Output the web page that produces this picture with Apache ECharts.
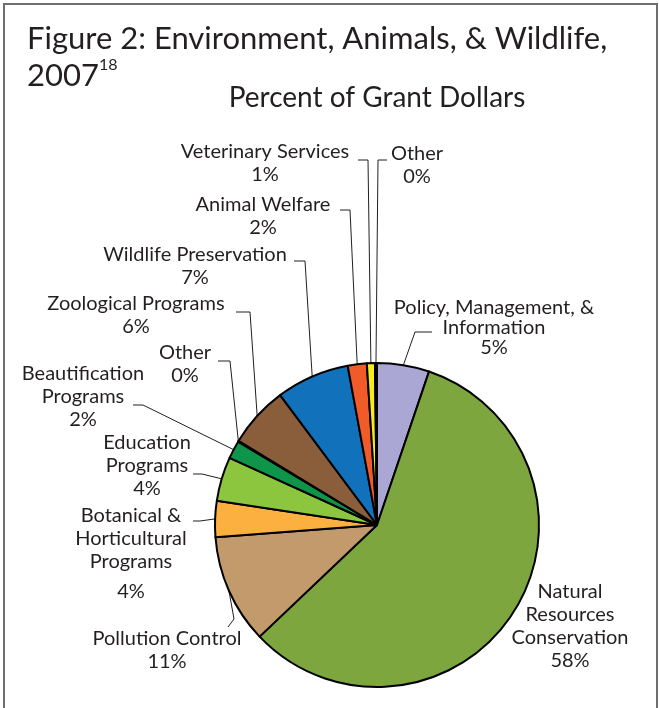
<!DOCTYPE html>
<html>
<head>
<meta charset="utf-8">
<title>Environment, Animals, & Wildlife, 2007</title>
<script src="https://cdn.jsdelivr.net/npm/echarts@6/dist/echarts.min.js"></script>
<style>
  html, body { margin: 0; padding: 0; background: #ffffff; }
  #chart { width: 659px; height: 708px; }
</style>
</head>
<body>
<div id="chart"></div>
<script>
// Grant-dollar shares by subject area, clockwise from 12 o'clock
const categories = [
  'Policy, Management, &\nInformation',
  'Natural\nResources\nConservation',
  'Pollution Control',
  'Botanical &\nHorticultural\nPrograms',
  'Education\nPrograms',
  'Beautification\nPrograms',
  'Other',
  'Zoological Programs',
  'Wildlife Preservation',
  'Animal Welfare',
  'Veterinary Services',
  'Other'
];
const shares = [5.2, 57.7, 10.9, 3.6, 4.4, 1.8, 0.1, 6.1, 7.3, 1.9, 0.8, 0.2];
const sliceColors = [
  '#aba7d4', '#7ea63e', '#c39a6b', '#fbb040', '#8cc63f', '#0f9549',
  '#3a3a3a', '#8a5d3b', '#1271bb', '#f15a29', '#f7ec1b', '#6dcff6'
];

// Label block centres and leader-line bends (screen pixels)
const labelPlaces = [
  { x: 494, y: 328, bend: [415, 332], end: [432, 332] },
  { x: 570, y: 626, bend: null },
  { x: 167, y: 650, bend: [234, 619], end: [228, 627] },
  { x: 131, y: 553, bend: [200, 521], end: [193, 521] },
  { x: 147, y: 466, bend: [202, 474], end: [193, 474] },
  { x: 83, y: 397, bend: [143, 405], end: [133, 405] },
  { x: 185, y: 364, bend: [230, 361], end: [218, 361] },
  { x: 136, y: 315, bend: [250, 312], end: [236, 312] },
  { x: 195, y: 266, bend: [305, 261], end: [294, 261] },
  { x: 263, y: 216, bend: [350, 210], end: [340, 210] },
  { x: 265, y: 163, bend: [368, 160], end: [358, 160] },
  { x: 417, y: 165, bend: [378, 160], end: [387, 160] }
];

const pieData = categories.map((name, i) => {
  const item = { name: name, value: shares[i], itemStyle: { color: sliceColors[i] } };
  if (i === 1) item.labelLine = { show: false };
  if (i === 0) item.label = { lineHeight: 20 };
  return item;
});

const chart = echarts.init(document.getElementById('chart'), null, { renderer: 'canvas' });

chart.setOption({
  backgroundColor: '#ffffff',
  animation: false,
  graphic: [{
    type: 'rect',
    shape: { x: 4, y: 4, width: 653, height: 730 },
    style: { fill: 'none', stroke: '#6e6e6e', lineWidth: 2 },
    silent: true
  }],
  title: [{
    text: 'Figure 2: Environment, Animals, & Wildlife,\n2007{sup|18}',
    left: 22,
    top: 15,
    textStyle: {
      fontFamily: 'Lato',
      fontWeight: 'normal',
      fontSize: 31,
      lineHeight: 37,
      color: '#231f20',
      rich: {
        sup: { fontFamily: 'Lato', fontSize: 16, color: '#231f20', verticalAlign: 'top', lineHeight: 37, padding: [0, 0, 15, 0] }
      }
    }
  }, {
    text: 'Percent of Grant Dollars',
    left: 372,
    top: 79,
    textAlign: 'center',
    textStyle: {
      fontFamily: 'Lato',
      fontWeight: 'normal',
      fontSize: 28,
      color: '#231f20'
    }
  }],
  series: [{
    type: 'pie',
    center: [377, 525],
    radius: [0, 162],
    startAngle: 90,
    clockwise: true,
    avoidLabelOverlap: false,
    minShowLabelAngle: 0,
    data: pieData,
    itemStyle: { borderColor: '#000000', borderWidth: 2 },
    label: {
      show: true,
      position: 'outside',
      fontFamily: 'Lato',
      fontSize: 20,
      lineHeight: 23,
      color: '#231f20',
      align: 'center',
      formatter: function (p) {
        const pct = Math.round(p.value) + '%';
        if (p.dataIndex === 3) return p.name + '\n{gap|' + pct + '}';
        return p.name + '\n' + pct;
      },
      rich: {
        gap: { fontFamily: 'Lato', fontSize: 20, color: '#231f20', lineHeight: 29, verticalAlign: 'bottom' }
      }
    },
    labelLine: {
      show: true,
      length: 10,
      length2: 10,
      lineStyle: { color: '#231f20', width: 1 }
    },
    emphasis: { disabled: true },
    labelLayout: function (params) {
      const place = labelPlaces[params.dataIndex];
      const out = { x: place.x, y: place.y, align: 'center', verticalAlign: 'middle' };
      const pts = params.labelLinePoints;
      if (place.bend && pts && pts.length) {
        out.labelLinePoints = [pts[0], place.bend, place.end];
      }
      return out;
    }
  }]
});
</script>
</body>
</html>
